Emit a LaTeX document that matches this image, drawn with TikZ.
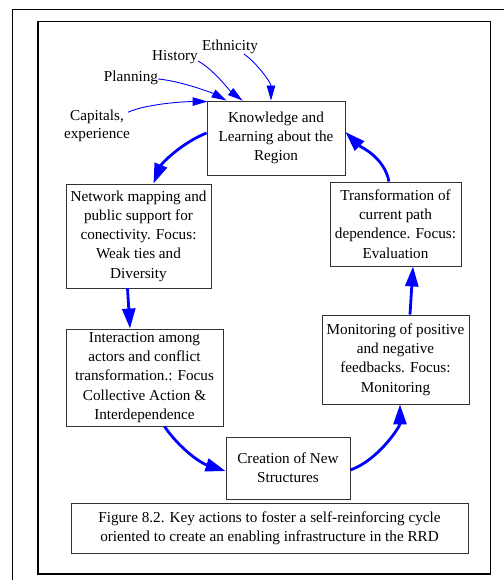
\documentclass[tikz,border=0pt]{standalone}
\usepackage{fontspec}
\setmainfont{Liberation Serif}
\usetikzlibrary{arrows.meta}
\begin{document}
\begin{tikzpicture}[x=1pt,y=-1pt,
  box/.style={draw=black!80, line width=0.9pt, align=center, inner sep=0pt,
    font=\fontsize{15.2}{19.3}\selectfont},
  lbl/.style={align=center, inner sep=0pt, font=\fontsize{15.2}{17.5}\selectfont},
  cyc/.style={draw=blue, line width=2.8pt, -{Triangle[length=20pt,width=13pt]}},
  inf/.style={draw=blue, line width=0.9pt, -{Triangle[length=15pt,width=8.5pt]}},
  frame/.style={draw=black, line width=1.5pt}]
\useasboundingbox (0,0) rectangle (503,580);
\draw[frame] (12.5,600) -- (12.5,9.5) -- (520,9.5);
\draw[frame] (38,21.7) rectangle (490.7,574);

\node[box, minimum width=138pt, minimum height=74pt] (know) at (276,138)
  {Knowledge and\\Learning about the\\Region};
\node[box, minimum width=131pt, minimum height=84pt] (trans) at (395.5,224)
  {Transformation of\\current path\\dependence. Focus:\\Evaluation};
\node[box, minimum width=145pt, minimum height=104pt] (net) at (138.5,236)
  {Network mapping and\\public support for\\conectivity. Focus:\\Weak ties and\\Diversity};
\node[box, minimum width=157pt, minimum height=97pt] (inter) at (144.5,377.5)
  {Interaction among\\actors and conflict\\transformation.: Focus\\Collective Action \&\\Interdependence};
\node[box, minimum width=147pt, minimum height=89pt] (mon) at (395.5,359.5)
  {Monitoring of positive\\and negative\\feedbacks. Focus:\\Monitoring};
\node[box, minimum width=124pt, minimum height=62pt] (crea) at (288,468)
  {Creation of New\\Structures};
\node[box, minimum width=397pt, minimum height=50pt] (cap) at (269.5,528)
  {Figure 8.2. Key actions to foster a self-reinforcing cycle\\oriented to create an enabling infrastructure in the RRD};

\node[lbl] (eth) at (230,47) {Ethnicity};
\node[lbl] (hist) at (175,57) {History};
\node[lbl] (plan) at (131,78) {Planning};
\node[lbl] (capx) at (97,126) {Capitals,\\experience};

\draw[inf] ([xshift=14pt]eth.south) .. controls +(12,8) and +(0,-18) .. ([xshift=-5pt]know.north);
\draw[inf] ([yshift=-4pt]hist.east) .. controls +(15,8) and +(-12,-9) .. ([xshift=36pt]know.north west);
\draw[inf] ([yshift=-1pt]plan.east) .. controls +(22,2) and +(-15,-8) .. ([xshift=20pt]know.north west);
\draw[inf] ([xshift=-2pt,yshift=-2pt]capx.north east) .. controls +(18,-8) and +(-25,0) .. ([xshift=1pt,yshift=-1pt]know.north west);

\draw[cyc] ([yshift=5pt]know.west) .. controls +(-25,10) and +(8,-20) .. ([xshift=15pt]net.north);
\draw[cyc] ([xshift=-11pt]net.south) -- ([xshift=-14.5pt]inter.north);
\draw[cyc] ([xshift=20pt]inter.south) .. controls +(15,22) and +(-25,-8) .. ([yshift=-3pt]crea.west);
\draw[cyc] ([yshift=-2pt]crea.east) .. controls +(28,-10) and +(0,22) .. ([xshift=4.5pt]mon.south);
\draw[cyc] ([xshift=14.5pt]mon.north) -- ([xshift=17.5pt]trans.south);
\draw[cyc] ([xshift=-6.5pt]trans.north) .. controls +(-5,-25) and +(15,15) .. ([yshift=6pt]know.east);
\end{tikzpicture}
\end{document}
